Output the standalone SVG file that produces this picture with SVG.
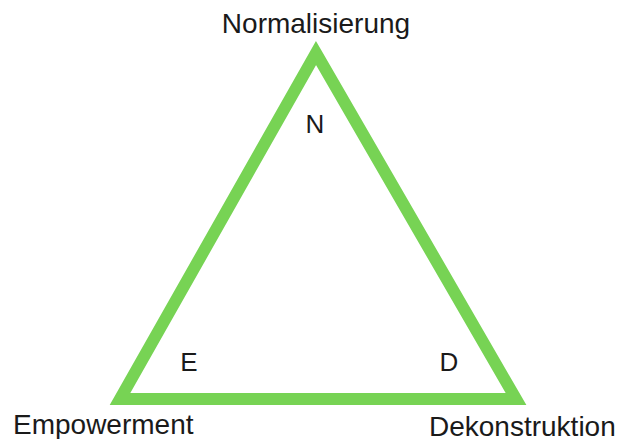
<svg xmlns="http://www.w3.org/2000/svg" width="619" height="439" viewBox="0 0 619 439">
<style>
.lbl{font-family:"Liberation Sans",Arial,sans-serif;font-size:28px;fill:#1a1a1a}
.sm{font-family:"Liberation Sans",Arial,sans-serif;font-size:26px;fill:#1a1a1a;text-anchor:middle}
.tri{fill:none;stroke:#77d354;stroke-width:12;stroke-linejoin:miter;stroke-miterlimit:10}
</style>
<rect width="619" height="439" fill="#ffffff"/>
<g id="triangle">
<polygon class="tri" points="316,53 516,399 120,399"/>
</g>
<g id="node-N">
<text class="lbl" x="316" y="33" text-anchor="middle">Normalisierung</text>
<text class="sm" x="315" y="133">N</text>
</g>
<g id="node-E">
<text class="lbl" x="13" y="434">Empowerment</text>
<text class="sm" x="189" y="371">E</text>
</g>
<g id="node-D">
<text class="lbl" x="429" y="436">Dekonstruktion</text>
<text class="sm" x="449" y="371">D</text>
</g>
</svg>
